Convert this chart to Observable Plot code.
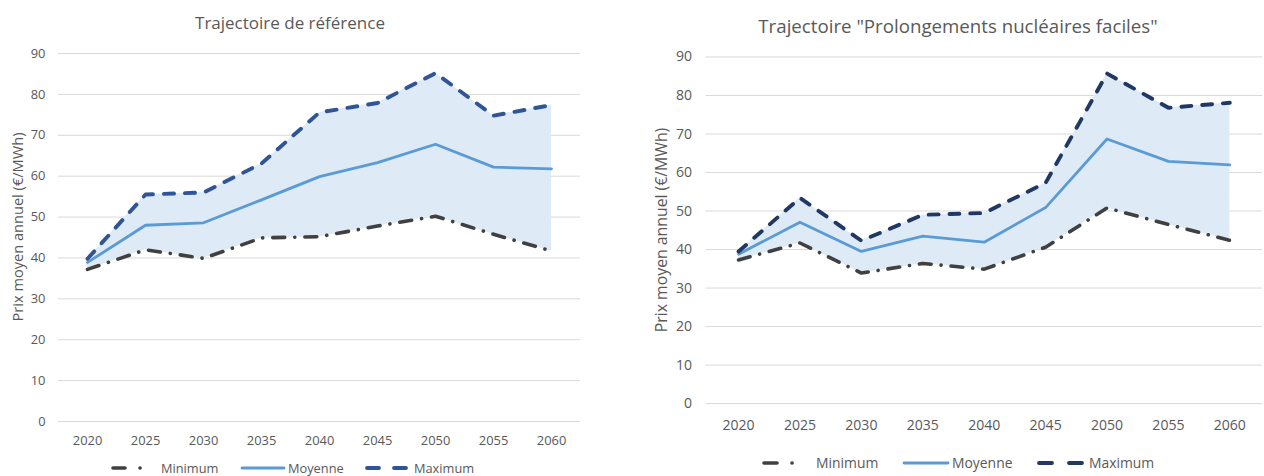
<!DOCTYPE html>
<html>
<head>
<meta charset="utf-8">
<script src="https://cdn.jsdelivr.net/npm/d3@7"></script>
<script src="https://cdn.jsdelivr.net/npm/@observablehq/plot@0.6"></script>
<style>
  html, body { margin: 0; padding: 0; background: #fff; overflow: hidden; width: 1264px; height: 476px; }
  body { position: relative; font-family: "Open Sans", sans-serif; color: #595959; }
  .abs { position: absolute; white-space: nowrap; }
  .title { transform: translate(-50%, -50%); }
  .ylab { transform: translate(-50%, -50%) rotate(-90deg); }
  .leg { transform: translateY(-50%); line-height: 1; }
  svg.sw { position: absolute; overflow: visible; }
</style>
</head>
<body>
<div id="left" class="abs" style="left:0;top:0"></div>
<div id="right" class="abs" style="left:640px;top:0"></div>
<script>
// ---- Data ----
const years = ["2020", "2025", "2030", "2035", "2040", "2045", "2050", "2055", "2060"];
const yTicks = [0, 10, 20, 30, 40, 50, 60, 70, 80, 90];

// Trajectoire de référence
const refMin = [37.2, 42.0, 39.9, 44.9, 45.2, 47.8, 50.2, 45.8, 41.7];
const refMoy = [38.9, 48.0, 48.6, 54.2, 59.9, 63.3, 67.8, 62.2, 61.8];
const refMax = [39.8, 55.5, 56.0, 63.1, 75.6, 77.9, 85.2, 74.8, 77.4];

// Trajectoire "Prolongements nucléaires faciles"
const nucMin = [37.3, 41.7, 33.9, 36.4, 34.9, 40.6, 50.8, 46.5, 42.4];
const nucMoy = [38.8, 47.1, 39.5, 43.5, 41.9, 50.9, 68.7, 62.9, 62.0];
const nucMax = [39.5, 53.4, 42.3, 49.0, 49.5, 57.3, 85.7, 76.8, 78.1];

const titles = ["Trajectoire de référence", "Trajectoire \"Prolongements nucléaires faciles\""];
const yLabel = "Prix moyen annuel (€/MWh)";
const seriesNames = ["Minimum", "Moyenne", "Maximum"];

// ---- Build ----
function rows(mn, moy, mx) {
  return years.map((y, i) => ({year: y, min: mn[i], moy: moy[i], max: mx[i]}));
}

function chart(data, o) {
  return Plot.plot({
    width: o.width, height: 476,
    marginLeft: o.ml, marginRight: o.mr, marginTop: o.mt, marginBottom: o.mb,
    style: {fontFamily: "Open Sans, sans-serif", fontSize: o.fs + "px", color: "#595959", background: "transparent", overflow: "visible"},
    x: {type: "point", domain: years, padding: 0.5},
    y: {domain: [0, 90]},
    marks: [
      Plot.gridY({ticks: yTicks, stroke: "#d9d9d9", strokeOpacity: 1, strokeWidth: 1}),
      Plot.areaY(data, {x: "year", y1: "min", y2: "max", fill: "#deeaf6", fillOpacity: 1, curve: "linear"}),
      Plot.line(data, {x: "year", y: "min", stroke: "#404040", strokeWidth: 3.6, strokeDasharray: "12,10,0.1,10", strokeLinecap: "round", strokeLinejoin: "round"}),
      Plot.line(data, {x: "year", y: "moy", stroke: "#5b9bd5", strokeWidth: 2.8, strokeLinecap: "round", strokeLinejoin: "round"}),
      Plot.line(data, {x: "year", y: "max", stroke: o.maxColor, strokeWidth: 3.9, strokeDasharray: "10,11", strokeLinecap: "round", strokeLinejoin: "round"}),
      Plot.axisY({ticks: yTicks, tickSize: 0, tickPadding: o.ytp, label: null}),
      Plot.axisX({tickSize: 0, tickPadding: o.xtp, label: null})
    ]
  });
}

const L = document.getElementById("left");
const R = document.getElementById("right");
L.appendChild(chart(rows(refMin, refMoy, refMax), {width: 632, ml: 58, mr: 52, mt: 53, mb: 55, fs: 12.9, ytp: 13, xtp: 14, maxColor: "#2f5597"}));
R.appendChild(chart(rows(nucMin, nucMoy, nucMax), {width: 630, ml: 66, mr: 2, mt: 57, mb: 69, fs: 14.2, ytp: 14, xtp: 17, maxColor: "#1f3864"}));

function addText(txt, cls, x, y, size) {
  const d = document.createElement("div");
  d.className = "abs " + cls;
  d.style.left = x + "px";
  d.style.top = y + "px";
  d.style.fontSize = size + "px";
  d.textContent = txt;
  document.body.appendChild(d);
  return d;
}

// Titles
addText(titles[0], "title", 290, 21.7, 17);
addText(titles[1], "title", 958, 25, 18.7);
// Y labels
addText(yLabel, "ylab", 16.7, 227, 14.6);
addText(yLabel, "ylab", 660.7, 230, 15.8);

// Legend swatches
const NS = "http://www.w3.org/2000/svg";
function swatch(x, y, w, stroke, sw, dash) {
  const s = document.createElementNS(NS, "svg");
  s.setAttribute("class", "sw");
  s.setAttribute("width", w);
  s.setAttribute("height", 10);
  s.style.left = x + "px";
  s.style.top = (y - 5) + "px";
  const l = document.createElementNS(NS, "line");
  l.setAttribute("x1", 2); l.setAttribute("x2", w - 2);
  l.setAttribute("y1", 5); l.setAttribute("y2", 5);
  l.setAttribute("stroke", stroke);
  l.setAttribute("stroke-width", sw);
  l.setAttribute("stroke-linecap", "round");
  if (dash) l.setAttribute("stroke-dasharray", dash);
  s.appendChild(l);
  document.body.appendChild(s);
}

function legend(cfg) {
  const y = cfg.y;
  swatch(cfg.minX, y, cfg.minW, "#404040", 3.6, cfg.minDash);
  addText(seriesNames[0], "leg", cfg.t1, y, cfg.fs);
  swatch(cfg.moyX, y, cfg.moyW, "#5b9bd5", 2.8, null);
  addText(seriesNames[1], "leg", cfg.t2, y, cfg.fs);
  swatch(cfg.maxX, y, cfg.maxW, cfg.maxColor, 3.8, cfg.maxDash);
  addText(seriesNames[2], "leg", cfg.t3, y, cfg.fs);
}

legend({y: 467.5, fs: 12.8, minX: 111, minW: 35, minDash: "12,15,0.1,20", t1: 161, moyX: 240, moyW: 46, t2: 288, maxX: 365, maxW: 46, maxDash: "12,15", maxColor: "#2f5597", t3: 414});
legend({y: 462.7, fs: 13.9, minX: 762, minW: 37, minDash: "13,15,0.1,20", t1: 816, moyX: 902, moyW: 48, t2: 952, maxX: 1037, maxW: 49, maxDash: "13,17", maxColor: "#1f3864", t3: 1089});
</script>
</body>
</html>
